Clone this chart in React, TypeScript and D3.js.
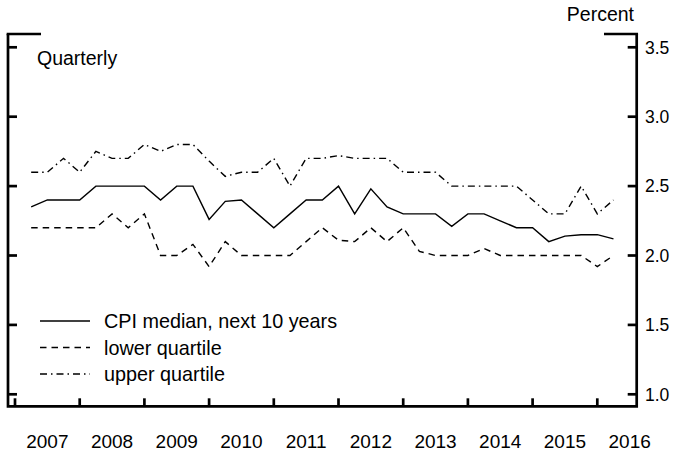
import React from "react";
import * as d3 from "d3";

const startQuarter = 2007.25;
const median = [2.35, 2.4, 2.4, 2.4, 2.5, 2.5, 2.5, 2.5, 2.4, 2.5, 2.5, 2.26, 2.39, 2.4, 2.3, 2.2, 2.3, 2.4, 2.4, 2.5, 2.3, 2.48, 2.35, 2.3, 2.3, 2.3, 2.21, 2.3, 2.3, 2.25, 2.2, 2.2, 2.1, 2.14, 2.15, 2.15, 2.12];
const lower = [2.2, 2.2, 2.2, 2.2, 2.2, 2.3, 2.2, 2.3, 2.0, 2.0, 2.08, 1.92, 2.1, 2.0, 2.0, 2.0, 2.0, 2.1, 2.2, 2.11, 2.1, 2.2, 2.1, 2.2, 2.03, 2.0, 2.0, 2.0, 2.05, 2.0, 2.0, 2.0, 2.0, 2.0, 2.0, 1.92, 2.0];
const upper = [2.6, 2.6, 2.7, 2.6, 2.75, 2.7, 2.7, 2.8, 2.75, 2.8, 2.8, 2.68, 2.57, 2.6, 2.6, 2.7, 2.5, 2.7, 2.7, 2.72, 2.7, 2.7, 2.7, 2.6, 2.6, 2.6, 2.5, 2.5, 2.5, 2.5, 2.5, 2.4, 2.3, 2.3, 2.5, 2.3, 2.4];
const years = [2007, 2008, 2009, 2010, 2011, 2012, 2013, 2014, 2015, 2016];
const yTicks = [1.0, 1.5, 2.0, 2.5, 3.0, 3.5];
const seriesNames = ["CPI median, next 10 years", "lower quartile", "upper quartile"];

const W = 673, H = 454;
const frameL = 8, frameR = 636.7, frameT = 34, frameB = 406.3;
const FONT = "'Liberation Sans', Arial, Helvetica, sans-serif";

export default function App() {
  const x = d3.scaleLinear().domain([2007, 2016]).range([15, 597.3]);
  const y = d3.scaleLinear().domain([1, 3.5]).range([394.3, 47.3]);
  const toPts = (arr: number[]) => arr.map((v, i) => [startQuarter + 0.25 * i, v] as [number, number]);
  const line = d3.line<[number, number]>().x(d => x(d[0])).y(d => y(d[1]));
  const series = [
    { data: median, dash: undefined as string | undefined },
    { data: lower, dash: "6.5,5" },
    { data: upper, dash: "7,4,1.5,4" },
  ];
  const legendY = [321, 347.5, 374];
  return (
    <svg width={W} height={H} style={{ position: "absolute", left: 0, top: 0, background: "#fff" }} fontFamily={FONT}>
      <rect x={0} y={0} width={W} height={H} fill="#fff" />
      <g stroke="#000" strokeWidth={2.7} fill="none">
        <path d={`M${frameL},${frameT} V${frameB} H${frameR} V${frameT}`} />
        <line x1={frameL - 1.35} x2={41} y1={frameT} y2={frameT} />
        <line x1={604} x2={frameR + 1.35} y1={frameT} y2={frameT} />
      </g>
      <g stroke="#000" strokeWidth={2.7}>
        {yTicks.map(t => (
          <g key={t}>
            <line x1={frameL} x2={frameL + 9} y1={y(t)} y2={y(t)} />
            <line x1={frameR - 9} x2={frameR} y1={y(t)} y2={y(t)} />
          </g>
        ))}
        {years.map(yr => (
          <line key={yr} x1={x(yr)} x2={x(yr)} y1={frameB} y2={frameB - 8} />
        ))}
      </g>
      <g fontSize={17.5} fill="#000">
        {yTicks.map(t => (
          <text key={t} x={645} y={y(t)} dy="0.36em">{t.toFixed(1)}</text>
        ))}
      </g>
      <g fontSize={19} fill="#000" textAnchor="middle">
        {years.map(yr => (
          <text key={yr} x={x(yr + 0.5)} y={448}>{yr}</text>
        ))}
      </g>
      <text x={634} y={21} fontSize={19.5} textAnchor="end">Percent</text>
      <text x={37} y={65} fontSize={19.5}>Quarterly</text>
      <g fill="none" stroke="#000" strokeWidth={1.4}>
        {series.map((s, i) => (
          <path key={i} d={line(toPts(s.data)) || ""} strokeDasharray={s.dash} />
        ))}
      </g>
      {series.map((s, i) => (
        <g key={i}>
          <line x1={40} x2={90} y1={legendY[i]} y2={legendY[i]} stroke="#000" strokeWidth={1.4} strokeDasharray={s.dash} />
          <text x={104} y={legendY[i]} dy="0.36em" fontSize={19.8}>{seriesNames[i]}</text>
        </g>
      ))}
    </svg>
  );
}
